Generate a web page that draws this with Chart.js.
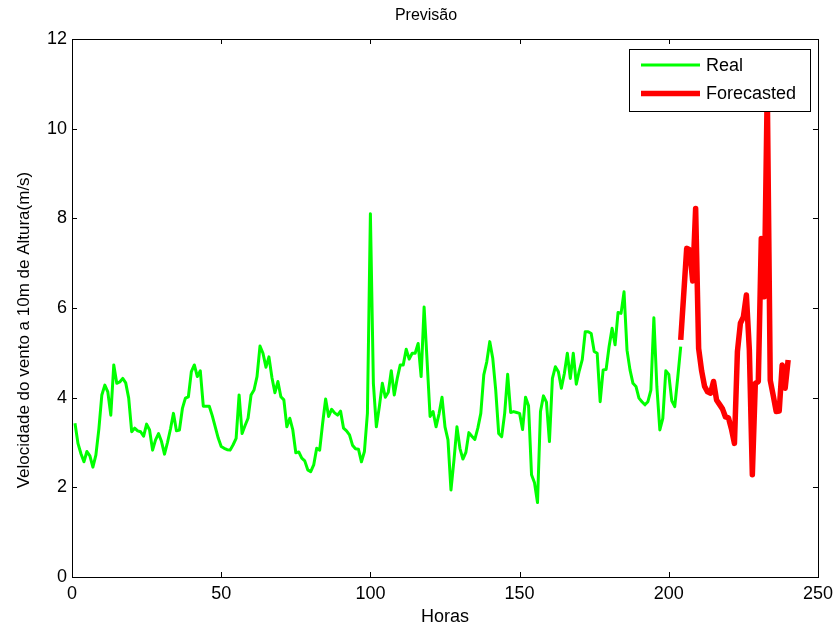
<!DOCTYPE html>
<html>
<head>
<meta charset="utf-8">
<script src="https://cdn.jsdelivr.net/npm/chart.js@4/dist/chart.umd.min.js"></script>
<style>
  body { margin: 0; background: #fff; }
  canvas { display: block; }
</style>
</head>
<body>
<canvas id="chart" width="839" height="630"></canvas>
<script>
// hora inicial de cada série
var realStart = 1;
var forecastStart = 204;

// velocidade medida (m/s), horas 1..204
var realValues = [
  3.43, 2.98, 2.75, 2.57, 2.80, 2.70, 2.45, 2.72, 3.30, 4.06,
  4.28, 4.13, 3.61, 4.73, 4.32, 4.35, 4.43, 4.33, 3.99, 3.24,
  3.32, 3.26, 3.24, 3.14, 3.41, 3.28, 2.83, 3.06, 3.20, 3.02,
  2.74, 3.00, 3.30, 3.65, 3.26, 3.28, 3.76, 3.99, 4.02, 4.58,
  4.73, 4.47, 4.60, 3.81, 3.81, 3.81, 3.60, 3.35, 3.10, 2.91,
  2.87, 2.84, 2.83, 2.95, 3.09, 4.06, 3.20, 3.38, 3.54, 4.06,
  4.17, 4.47, 5.15, 4.99, 4.68, 4.91, 4.45, 4.11, 4.36, 4.02,
  3.95, 3.35, 3.54, 3.28, 2.77, 2.79, 2.65, 2.59, 2.39, 2.35,
  2.50, 2.87, 2.83, 3.43, 3.97, 3.58, 3.74, 3.66, 3.61, 3.70,
  3.32, 3.26, 3.17, 2.94, 2.86, 2.85, 2.57, 2.80, 3.65, 8.10,
  4.32, 3.35, 3.80, 4.32, 4.01, 4.12, 4.60, 4.06, 4.43, 4.73,
  4.73, 5.08, 4.86, 4.99, 4.99, 5.21, 4.47, 6.02, 4.82, 3.58,
  3.69, 3.35, 3.64, 4.01, 3.35, 3.06, 1.94, 2.60, 3.35, 2.87,
  2.63, 2.78, 3.22, 3.14, 3.07, 3.32, 3.65, 4.51, 4.80, 5.25,
  4.88, 4.17, 3.20, 3.13, 3.65, 4.52, 3.67, 3.69, 3.67, 3.65,
  3.29, 4.01, 3.82, 2.28, 2.10, 1.66, 3.69, 4.04, 3.90, 3.02,
  4.43, 4.69, 4.58, 4.21, 4.54, 4.99, 4.43, 4.99, 4.30, 4.60,
  4.85, 5.47, 5.47, 5.43, 5.03, 4.99, 3.91, 4.62, 4.63, 5.14,
  5.55, 5.18, 5.90, 5.88, 6.36, 5.06, 4.62, 4.32, 4.25, 3.99,
  3.91, 3.84, 3.91, 4.17, 5.78, 4.25, 3.28, 3.54, 4.60, 4.52,
  3.93, 3.80, 4.45, 5.14
];

// previsão (m/s), horas 204..240
var forecastValues = [
  5.29, 6.30, 7.33, 7.30, 6.60, 8.22, 5.10, 4.60, 4.25, 4.13,
  4.10, 4.36, 3.95, 3.85, 3.75, 3.57, 3.55, 3.30, 2.98, 5.03,
  5.66, 5.80, 6.29, 5.06, 2.28, 4.32, 4.36, 7.55, 6.25, 10.90,
  4.39, 4.05, 3.69, 3.70, 4.73, 4.21, 4.84
];

var xTicks = [0, 50, 100, 150, 200, 250];
var yTicks = [0, 2, 4, 6, 8, 10, 12];

function toPoints(start, values) {
  return values.map(function(v, i) { return { x: start + i, y: v }; });
}

var fontFamily = '"Liberation Sans", Arial, Helvetica, sans-serif';
Chart.defaults.font.family = fontFamily;
Chart.defaults.font.size = 18;
Chart.defaults.color = '#000';

var chartTitle = 'Previsão';
var yTitle = 'Velocidade do vento a 10m de Altura(m/s)';

// moldura estilo MATLAB: caixa, ticks para dentro, legenda dentro do gráfico
var matlabBox = {
  id: 'matlabBox',
  afterDatasetsDraw: function(chart) {
    var ctx = chart.ctx;
    var a = chart.chartArea;
    var xs = chart.scales.x, ys = chart.scales.y;
    var len = 5;
    ctx.save();
    ctx.strokeStyle = '#000';
    ctx.lineWidth = 1;
    ctx.beginPath();
    xTicks.forEach(function(t) {
      var px = Math.round(xs.getPixelForValue(t)) + 0.5;
      ctx.moveTo(px, a.bottom); ctx.lineTo(px, a.bottom - len);
      ctx.moveTo(px, a.top); ctx.lineTo(px, a.top + len);
    });
    yTicks.forEach(function(t) {
      var py = Math.round(ys.getPixelForValue(t)) + 0.5;
      ctx.moveTo(a.left, py); ctx.lineTo(a.left + len, py);
      ctx.moveTo(a.right, py); ctx.lineTo(a.right - len, py);
    });
    ctx.stroke();
    ctx.strokeRect(Math.round(a.left) + 0.5, Math.round(a.top) + 0.5,
                   Math.round(a.right - a.left), Math.round(a.bottom - a.top));

    // legenda
    var lx = 629.5, ly = 49.5, lw = 181, lh = 62;
    ctx.fillStyle = '#fff';
    ctx.fillRect(lx, ly, lw, lh);
    ctx.strokeRect(lx, ly, lw, lh);
    var rows = [65, 93.5];
    chart.data.datasets.forEach(function(ds, i) {
      ctx.beginPath();
      ctx.strokeStyle = ds.borderColor;
      ctx.lineWidth = ds.borderWidth;
      ctx.moveTo(641, rows[i]); ctx.lineTo(700, rows[i]);
      ctx.stroke();
      ctx.fillStyle = '#000';
      ctx.font = '18px ' + fontFamily;
      ctx.textBaseline = 'middle';
      ctx.textAlign = 'left';
      ctx.fillText(ds.label, 706, rows[i] + 1);
    });

    // título
    ctx.font = '16px ' + fontFamily;
    ctx.textAlign = 'center';
    ctx.textBaseline = 'middle';
    ctx.fillText(chartTitle, 426, 16);

    // título do eixo y
    ctx.translate(24, 330);
    ctx.rotate(-Math.PI / 2);
    ctx.font = '17px ' + fontFamily;
    ctx.fillStyle = '#000';
    ctx.fillText(yTitle, 0, 0);
    ctx.restore();
  }
};

var data = {
  datasets: [{
    label: 'Real',
    data: toPoints(realStart, realValues),
    borderColor: 'rgb(0, 255, 0)',
    borderWidth: 3,
    pointRadius: 0,
    tension: 0,
    fill: false,
    borderJoinStyle: 'round'
  }, {
    label: 'Forecasted',
    data: toPoints(forecastStart, forecastValues),
    borderColor: 'rgb(255, 0, 0)',
    borderWidth: 5.5,
    pointRadius: 0,
    tension: 0,
    fill: false,
    borderJoinStyle: 'round'
  }]
};

var options = {
  responsive: false,
  animation: false,
  devicePixelRatio: 1,
  layout: { padding: { left: 0, right: 20, top: 39, bottom: 0 } },
  scales: {
    x: {
      type: 'linear',
      min: 0,
      max: 250,
      grid: { display: false, drawTicks: false },
      border: { display: false },
      afterBuildTicks: function(scale) {
        scale.ticks = xTicks.map(function(v) { return { value: v }; });
      },
      ticks: { padding: 6, maxRotation: 0 },
      title: { display: true, text: 'Horas', padding: { top: 0, bottom: 2 } },
      afterFit: function(scale) { scale.height = 53; }
    },
    y: {
      min: 0,
      max: 12,
      grid: { display: false, drawTicks: false },
      border: { display: false },
      afterBuildTicks: function(scale) {
        scale.ticks = yTicks.map(function(v) { return { value: v }; });
      },
      ticks: { padding: 5 },
      afterFit: function(scale) { scale.width = 72; }
    }
  },
  plugins: {
    legend: { display: false },
    tooltip: { enabled: false },
    title: { display: false }
  }
};

var ctx = document.getElementById('chart').getContext('2d');
var chart = new Chart(ctx, {
  type: 'line',
  data: data,
  options: options,
  plugins: [matlabBox]
});
</script>
</body>
</html>
